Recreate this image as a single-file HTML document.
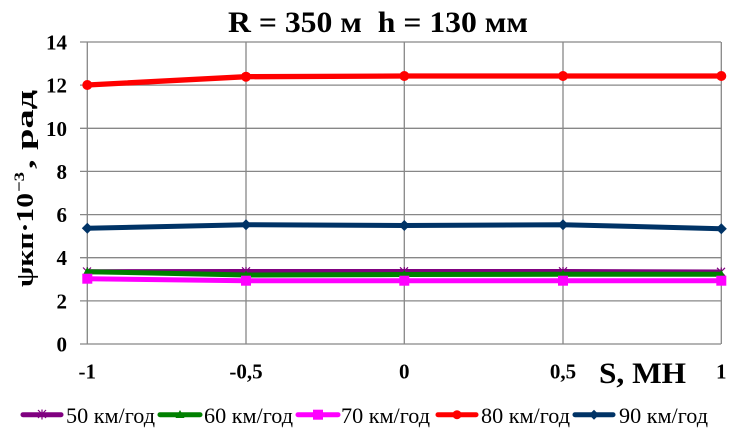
<!DOCTYPE html>
<html>
<head>
<meta charset="utf-8">
<style>
html,body{margin:0;padding:0;background:#fff;}
svg{display:block;}
svg text{font-family:"Liberation Serif","Times New Roman","DejaVu Serif",serif;}
</style>
</head>
<body>
<svg width="736" height="434" viewBox="0 0 736 434" xmlns="http://www.w3.org/2000/svg">
<rect width="736" height="434" fill="#fff"/>
<!-- title -->
<text x="378" y="32" font-size="30" font-weight="bold" text-anchor="middle" textLength="300" lengthAdjust="spacingAndGlyphs">R = 350 м&#160;&#160;h = 130 мм</text>
<!-- grid -->
<g stroke="#878787" stroke-width="1.3" fill="none">
<line x1="80" y1="42" x2="721" y2="42"/>
<line x1="80" y1="85.1" x2="721" y2="85.1"/>
<line x1="80" y1="128.3" x2="721" y2="128.3"/>
<line x1="80" y1="171.4" x2="721" y2="171.4"/>
<line x1="80" y1="214.6" x2="721" y2="214.6"/>
<line x1="80" y1="257.7" x2="721" y2="257.7"/>
<line x1="80" y1="300.9" x2="721" y2="300.9"/>
<line x1="80" y1="344" x2="721" y2="344"/>
<line x1="87.3" y1="42" x2="87.3" y2="344"/>
<line x1="246" y1="42" x2="246" y2="344"/>
<line x1="404.3" y1="42" x2="404.3" y2="344"/>
<line x1="563" y1="42" x2="563" y2="344"/>
<line x1="721.3" y1="42" x2="721.3" y2="344"/>
</g>
<!-- y tick labels -->
<g font-size="21" font-weight="bold" text-anchor="end">
<text x="67" y="49.5">14</text>
<text x="67" y="92.6">12</text>
<text x="67" y="135.8">10</text>
<text x="67" y="178.9">8</text>
<text x="67" y="222.1">6</text>
<text x="67" y="265.2">4</text>
<text x="67" y="308.4">2</text>
<text x="67" y="351.5">0</text>
</g>
<!-- x tick labels -->
<g font-size="21" font-weight="bold" text-anchor="middle">
<text x="87.3" y="378.5">-1</text>
<text x="246" y="378.5">-0,5</text>
<text x="404.3" y="378.5">0</text>
<text x="563" y="378.5">0,5</text>
<text x="721.3" y="378.5">1</text>
</g>
<text x="599" y="383" font-size="30" font-weight="bold" textLength="87" lengthAdjust="spacingAndGlyphs">S, МН</text>
<!-- y axis label -->
<g font-weight="bold">
<text transform="translate(33,287) rotate(-90)" x="0" y="0" font-size="24" textLength="94" lengthAdjust="spacingAndGlyphs">ψкп·10</text>
<text transform="translate(24,192) rotate(-90)" x="0" y="0" font-size="15" textLength="20" lengthAdjust="spacingAndGlyphs">−3</text>
<text transform="translate(33,169) rotate(-90)" x="0" y="0" font-size="24" textLength="79" lengthAdjust="spacingAndGlyphs">, рад</text>
</g>

<!-- series: 50 purple -->
<polyline points="87.3,271.7 246,271.5 404.3,271.5 563,271.5 721.3,272" fill="none" stroke="#800080" stroke-width="5" stroke-linejoin="round"/>
<g stroke="#800080" stroke-width="1.2">
<path d="M83,267.5 l8,8 M91,267.5 l-8,8 M87.3,267 v9"/>
<path d="M242,267.3 l8,8 M250,267.3 l-8,8 M246,267 v9"/>
<path d="M400,267.3 l8,8 M408,267.3 l-8,8 M404.3,267 v9"/>
<path d="M559,267.3 l8,8 M567,267.3 l-8,8 M563,267 v9"/>
<path d="M717,267.8 l8,8 M725,267.8 l-8,8 M721.3,267.5 v9"/>
</g>
<!-- 60 green -->
<polyline points="87.3,271.7 246,275 404.3,274.5 563,274.3 721.3,274.3" fill="none" stroke="#008000" stroke-width="5" stroke-linejoin="round"/>
<g fill="#008000">
<path d="M87.3,267 l4.5,8 h-9z"/>
<path d="M246,270.5 l4.5,8 h-9z"/>
<path d="M404.3,270 l4.5,8 h-9z"/>
<path d="M563,269.8 l4.5,8 h-9z"/>
<path d="M721.3,269.8 l4.5,8 h-9z"/>
</g>
<!-- 70 magenta -->
<polyline points="87.3,278.7 246,280.7 404.3,280.7 563,280.7 721.3,280.7" fill="none" stroke="#FF00FF" stroke-width="5" stroke-linejoin="round"/>
<g fill="#FF00FF">
<rect x="82.3" y="273.7" width="10" height="10"/>
<rect x="241" y="275.7" width="10" height="10"/>
<rect x="399.3" y="275.7" width="10" height="10"/>
<rect x="558" y="275.7" width="10" height="10"/>
<rect x="716.3" y="275.7" width="10" height="10"/>
</g>
<!-- 80 red -->
<polyline points="87.3,85 246,76.7 404.3,76 563,76 721.3,76" fill="none" stroke="#FF0000" stroke-width="5.3" stroke-linejoin="round"/>
<g fill="#FF0000">
<circle cx="87.3" cy="85" r="5"/>
<circle cx="246" cy="76.7" r="5"/>
<circle cx="404.3" cy="76" r="5"/>
<circle cx="563" cy="76" r="5"/>
<circle cx="721.3" cy="76" r="5"/>
</g>
<!-- 90 blue -->
<polyline points="87.3,228.3 246,224.7 404.3,225.5 563,224.7 721.3,228.7" fill="none" stroke="#003366" stroke-width="5" stroke-linejoin="round"/>
<g fill="#003366">
<path d="M87.3,222.8 l5.5,5.5 -5.5,5.5 -5.5,-5.5z"/>
<path d="M246,219.2 l5.5,5.5 -5.5,5.5 -5.5,-5.5z"/>
<path d="M404.3,220 l5.5,5.5 -5.5,5.5 -5.5,-5.5z"/>
<path d="M563,219.2 l5.5,5.5 -5.5,5.5 -5.5,-5.5z"/>
<path d="M721.3,223.2 l5.5,5.5 -5.5,5.5 -5.5,-5.5z"/>
</g>

<!-- legend -->
<g stroke-width="5" stroke-linecap="round">
<line x1="23" y1="414.7" x2="61" y2="414.7" stroke="#800080"/>
<line x1="160" y1="414.7" x2="200" y2="414.7" stroke="#008000"/>
<line x1="298" y1="414.7" x2="338" y2="414.7" stroke="#FF00FF"/>
<line x1="438" y1="414.7" x2="476" y2="414.7" stroke="#FF0000"/>
<line x1="575" y1="414.7" x2="613" y2="414.7" stroke="#003366"/>
</g>
<path d="M38,410 l8,8 M46,410 l-8,8 M42,409.5 v10" stroke="#800080" stroke-width="1.2"/>
<path d="M180,410 l4.5,8 h-9z" fill="#008000"/>
<rect x="313" y="409.7" width="10" height="10" fill="#FF00FF"/>
<circle cx="457" cy="414.7" r="4.5" fill="#FF0000"/>
<path d="M594,409.7 l5,5 -5,5 -5,-5z" fill="#003366"/>
<g font-size="22">
<text x="66" y="423" textLength="89" lengthAdjust="spacingAndGlyphs">50 км/год</text>
<text x="204" y="423" textLength="89" lengthAdjust="spacingAndGlyphs">60 км/год</text>
<text x="341" y="423" textLength="89" lengthAdjust="spacingAndGlyphs">70 км/год</text>
<text x="481" y="423" textLength="89" lengthAdjust="spacingAndGlyphs">80 км/год</text>
<text x="619" y="423" textLength="89" lengthAdjust="spacingAndGlyphs">90 км/год</text>
</g>
</svg>
</body>
</html>
